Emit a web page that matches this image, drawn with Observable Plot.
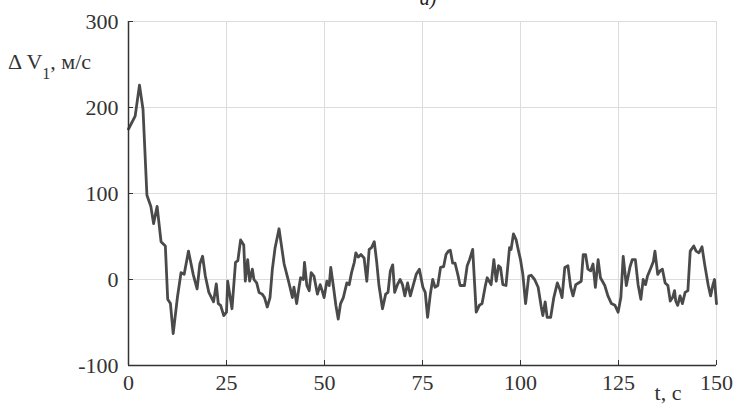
<!DOCTYPE html>
<html><head><meta charset="utf-8">
<script src="https://cdn.jsdelivr.net/npm/d3@7"></script>
<script src="https://cdn.jsdelivr.net/npm/@observablehq/plot@0.6"></script>
<style>
body{margin:0;background:#fff;}
#wrap{position:relative;width:738px;height:411px;overflow:hidden;}
#title{position:absolute;left:408px;width:40px;top:-13px;text-align:center;font:italic 20px "Liberation Serif";color:#222;}
</style></head><body><div id="wrap"><div id="title">a)</div></div>
<script>
const timeS = [0,1.7,2.8,3.7,4.7,5.7,6.4,7.3,8.3,9.4,10.0,10.7,11.4,12.5,13.4,14.2,15.3,16.5,17.5,18.2,18.9,19.6,20.5,21.7,22.4,22.9,23.5,24.3,25.0,25.3,26.4,27.3,27.9,
28.6,29.4,29.8,30.4,30.9,31.6,32,32.7,33.3,34.1,34.7,35.4,36.1,36.7,37.4,38.4,39,39.7,40.5,41.2,41.8,42.2,42.9,43.5,43.9,44.6,44.9,45.5,46.1,46.6,47.3,48.2,48.9,49.4,49.9,50.6,51.2,51.6,52.3,52.9,53.5,54.1,54.8,55.7,56.3,56.9,57.6,58,58.6,59.3,
60.1,60.8,61.4,62,62.7,63.3,63.9,64.8,65.6,66.2,66.8,67.4,67.9,68.6,69.3,69.9,70.5,71.2,71.9,72.5,73.4,74.2,75.1,75.7,76.3,77,77.6,78.2,78.9,79.6,80.4,81,81.6,82.1,82.7,83.3,84,84.6,85.7,86.4,87,87.8,88.7,89.5,
90.2,91.0,91.5,92.5,93.2,93.8,94.4,94.9,95.5,96.3,97.2,97.6,98.2,98.9,99.5,100,100.6,101.3,102.1,102.7,103.6,104.5,105.3,105.7,106.3,106.8,107.7,108.5,109.4,110,110.6,111.3,112.1,112.8,113.4,114.1,114.8,115.5,116,116.6,117.2,117.9,118.5,119.1,119.8,120.4,
121.5,122.3,123.2,124.1,124.9,125.6,126.2,127,127.9,128.5,129.3,130,130.7,131.3,131.9,132.4,133.3,133.9,134.3,135,135.6,136.2,136.9,137.6,138.2,138.8,139.3,139.6,140.1,140.7,141.3,142,142.7,143.3,144.2,144.8,145.5,146.3,147,147.9,148.5,149.1,149.5,150];
const deltaV = [175,190,226,198,98,85,65,85,44,39,-23,-28,-63,-20,8,6,33,6,-11,18,27,4,-15,-26,-5,-28,-30,-42,-38,-2,-34,20,22,
46,40,-2,23,-2,12,0,-4,-15,-17,-21,-32,-21,12,37,59,40,18,4,-9,-21,-9,-28,-9,2,0,20,-7,-13,8,4,-17,-6,-13,-21,-2,-7,14,-9,-30,-46,-28,-21,-4,-6,8,20,31,26,29,
25,-2,35,37,44,21,-7,-34,-17,-15,10,17,-15,-6,0,-6,-19,-4,-19,-9,6,12,-9,-15,-44,-17,0,-9,-7,14,15,29,33,34,19,19,6,-7,-7,16,23,35,-38,-30,
-28,-8,2,-6,23,-2,16,14,-6,-7,37,35,53,46,33,23,6,-28,4,5,0,-9,-32,-42,-26,-44,-44,-21,-4,-11,-21,14,16,-9,-19,-6,-4,-2,29,29,12,10,18,-9,23,2,
-7,-19,-28,-30,-38,-21,27,-7,14,23,23,-6,-23,0,-6,4,14,21,33,6,10,12,-4,-7,-25,-21,-13,-25,-30,-19,-28,-15,-13,33,39,33,31,38,17,-7,-19,-6,0,-28];
const xTicks = [0,25,50,75,100,125,150];
const yTicks = [-100,0,100,200,300];

const data = timeS.map((t,i)=>({t, v: deltaV[i]}));
const W = 738, H = 411, mL = 128, mR = 22, mT = 21, mB = 46;
const fw = W - mL - mR, fh = H - mT - mB;
const font = "Liberation Serif";

const plot = Plot.plot({
  width: W, height: H,
  marginTop: mT, marginBottom: mB, marginLeft: mL, marginRight: mR,
  style: {fontFamily: font, fontSize: "22px", color: "#333", background: "white"},
  x: {domain: [0,150], label: null},
  y: {domain: [-100,300], label: null},
  marks: [
    Plot.gridX(xTicks, {stroke: "#dcdcdc", strokeOpacity: 1}),
    Plot.gridY(yTicks, {stroke: "#dcdcdc", strokeOpacity: 1}),
    Plot.ruleX(xTicks, {stroke: "#333", insetTop: fh - 5}),
    Plot.ruleY(yTicks, {stroke: "#333", insetRight: fw - 5}),
    Plot.axisX({ticks: xTicks, tickSize: 0, tickPadding: 9, label: null, fontSize: 22, fill: "#333", tickFormat: d => String(d)}),
    Plot.axisY({ticks: yTicks, tickSize: 0, tickPadding: 10, label: null, fontSize: 22, fill: "#333", tickFormat: d => String(d)}),
    Plot.line(data, {x: "t", y: "v", stroke: "#4a4a4a", strokeWidth: 2.8, strokeLinejoin: "round"}),
    Plot.ruleX([0], {stroke: "#333", strokeWidth: 1.5}),
    Plot.ruleY([-100], {stroke: "#333", strokeWidth: 1.5})
  ]
});
document.getElementById("wrap").appendChild(plot);

const svg = d3.select(plot);
const yl = svg.append("text").attr("x", 8).attr("y", 69).attr("text-anchor", "start")
  .attr("font-family", font).attr("font-size", 22).attr("fill", "#333");
yl.append("tspan").text("Δ V");
yl.append("tspan").attr("font-size", 16).attr("dy", 10).text("1");
yl.append("tspan").attr("dy", -10).text(", м/с");

svg.append("text").attr("x", 668).attr("y", 400).attr("text-anchor", "middle")
  .attr("font-family", font).attr("font-size", 22).attr("fill", "#333").text("t, с");
</script>
</body></html>
